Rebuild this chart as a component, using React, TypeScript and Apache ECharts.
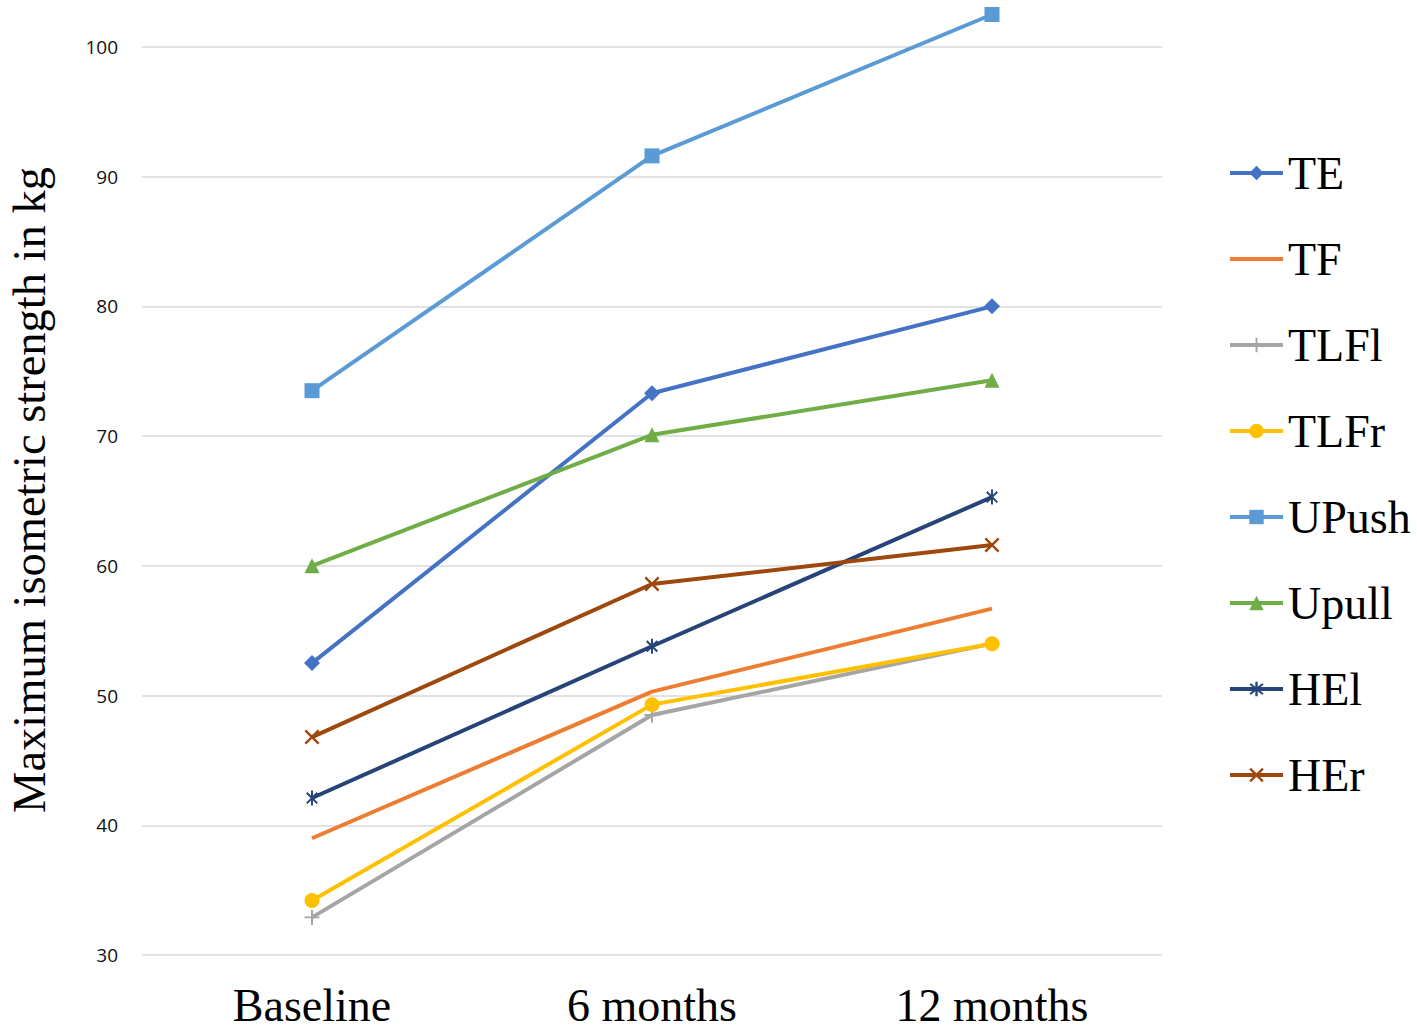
import React, { useEffect, useRef } from "react";
import * as echarts from "echarts";

const categories = ["Baseline", "6 months", "12 months"];
const seriesNames = ["TE", "TF", "TLFl", "TLFr", "UPush", "Upull", "HEl", "HEr"];
const teValues = [52.5, 73.3, 80.0];
const tfValues = [39.0, 50.3, 56.7];
const tlflValues = [32.9, 48.5, 54.0];
const tlfrValues = [34.2, 49.3, 54.0];
const upushValues = [73.5, 91.6, 102.5];
const upullValues = [60.0, 70.1, 74.3];
const helValues = [42.1, 53.8, 65.3];
const herValues = [46.8, 58.6, 61.6];
const seriesColors = ["#4472C4", "#ED7D31", "#A5A5A5", "#FFC000", "#5B9BD5", "#70AD47", "#264478", "#9E480E"];
const yAxisTitle = "Maximum isometric strength in kg";

function bar(angleDeg: number, L: number, h: number): string {
  const a = (angleDeg * Math.PI) / 180;
  const ux = Math.cos(a), uy = Math.sin(a);
  const vx = -uy, vy = ux;
  const c = 5;
  const pts = [
    [c + L * ux + h * vx, c + L * uy + h * vy],
    [c - L * ux + h * vx, c - L * uy + h * vy],
    [c - L * ux - h * vx, c - L * uy - h * vy],
    [c + L * ux - h * vx, c + L * uy - h * vy],
  ];
  return "M" + pts.map((p) => p[0].toFixed(3) + "," + p[1].toFixed(3)).join("L") + "Z";
}

const plusSymbol = "path://" + bar(0, 5, 0.65) + bar(90, 5, 0.65);
const crossSymbol = "path://" + bar(45, 5, 0.65) + bar(135, 5, 0.65);
const starSymbol = "path://" + bar(90, 5, 0.65) + bar(45, 5, 0.65) + bar(135, 5, 0.65);

const seriesData = [teValues, tfValues, tlflValues, tlfrValues, upushValues, upullValues, helValues, herValues];
const seriesSymbols = ["diamond", "none", plusSymbol, "circle", "rect", "triangle", starSymbol, crossSymbol];
const seriesSymbolSizes = [16, 0, 15, 15, 15, 15, 15, 15];

export default function App() {
  const ref = useRef<HTMLDivElement>(null);
  useEffect(() => {
    if (!ref.current) return;
    const chart = echarts.init(ref.current, null, { renderer: "svg" });
    const option: any = {
      animation: false,
      backgroundColor: "#ffffff",
      grid: { left: 142, right: 255, top: 8, bottom: 77, containLabel: false, outerBoundsMode: "none" },
      xAxis: {
        type: "category",
        data: categories,
        boundaryGap: true,
        axisLine: { show: false },
        axisTick: { show: false },
        axisLabel: {
          margin: 30,
          fontFamily: "Liberation Serif",
          fontSize: 46,
          lineHeight: 40,
          color: "#000",
        },
      },
      yAxis: {
        type: "value",
        min: 30,
        max: 103,
        interval: 10,
        axisLine: { show: false },
        axisTick: { show: false },
        axisLabel: {
          margin: 24,
          fontFamily: "Open Sans",
          fontSize: 19,
          color: "#111",
          showMaxLabel: false,
        },
        splitLine: { show: true, showMaxLine: false, lineStyle: { color: "#d9d9d9", width: 1.5 } },
      },
      legend: {
        orient: "vertical",
        left: 1228,
        top: 150,
        padding: 0,
        itemWidth: 53,
        itemHeight: 18,
        itemGap: 40,
        lineStyle: { width: 4 },
        textStyle: { fontFamily: "Liberation Serif", fontSize: 46, lineHeight: 46, color: "#000" },
        data: seriesNames.map((n, i) => (i === 1 ? { name: n, itemStyle: { opacity: 0 } } : { name: n })),
      },
      graphic: [
        {
          type: "text",
          x: 29,
          y: 490,
          rotation: Math.PI / 2,
          style: {
            text: yAxisTitle,
            fontFamily: "Liberation Serif",
            fontSize: 46.5,
            fill: "#000",
            align: "center",
            verticalAlign: "middle",
          },
        },
      ],
      series: seriesNames.map((name, i) => ({
        name,
        type: "line",
        data: seriesData[i],
        symbol: seriesSymbols[i],
        symbolSize: seriesSymbolSizes[i],
        symbolKeepAspect: true,
        showSymbol: i !== 1,
        color: seriesColors[i],
        lineStyle: { color: seriesColors[i], width: 4 },
        itemStyle: { color: seriesColors[i], borderWidth: 0 },
        emphasis: { disabled: true },
      })),
    };
    chart.setOption(option);
    return () => chart.dispose();
  }, []);
  return <div ref={ref} style={{ position: "fixed", left: 0, top: 0, width: 1417, height: 1032 }} />;
}
